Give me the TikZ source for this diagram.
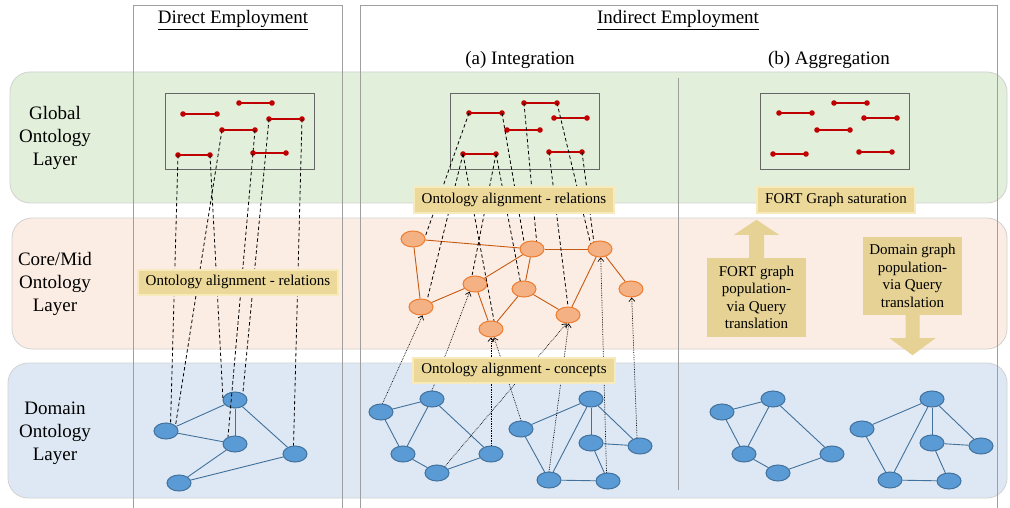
\documentclass[tikz,border=0pt]{standalone}
\usepackage{fontspec}
\setmainfont{Liberation Serif}
\usepackage{tikz}
\usetikzlibrary{arrows.meta, shapes.geometric}
\definecolor{relred}{RGB}{192,0,0}
\definecolor{globband}{RGB}{226,239,218}
\definecolor{coreband}{RGB}{252,237,228}
\definecolor{domband}{RGB}{222,232,244}
\definecolor{domfill}{RGB}{91,155,213}
\definecolor{domline}{RGB}{65,113,156}
\definecolor{corefill}{RGB}{244,177,131}
\definecolor{coreline}{RGB}{237,125,49}
\definecolor{corelink}{RGB}{197,90,17}
\definecolor{tagfill}{RGB}{236,216,152}
\definecolor{tagedge}{RGB}{247,235,190}
\definecolor{callfill}{RGB}{229,210,148}

\begin{document}
\begin{tikzpicture}[x=1pt, y=-1pt,
		>=Stealth,
		layerband/.style={rounded corners=20pt, draw=gray!35, line width=0.8pt},
		colframe/.style={draw=gray!75, line width=0.9pt},
		globframe/.style={draw=gray!80!black, line width=1pt, minimum width=149pt, minimum height=76pt},
		relseg/.style={draw=relred, line width=2.6pt},
		reldot/.style={fill=relred},
		domnode/.style={ellipse, draw=domline, fill=domfill, line width=1pt,
			minimum width=24pt, minimum height=16pt, inner sep=0pt},
		corenode/.style={ellipse, draw=coreline, fill=corefill, line width=1pt,
			minimum width=24pt, minimum height=16pt, inner sep=0pt},
		domedge/.style={draw=domline, line width=0.9pt},
		coreedge/.style={draw=corelink, line width=0.9pt},
		relmap/.style={dash pattern=on 3.5pt off 2.5pt, line width=0.8pt},
		conmap/.style={densely dotted, line width=0.7pt, -{Straight Barb[length=3.5pt, width=6pt]}},
		tagbox/.style={fill=tagfill, draw=tagedge, line width=2pt,
			font=\fontsize{15}{18}\selectfont, minimum height=25pt, inner xsep=8pt},
		callbox/.style={fill=callfill, align=center, font=\fontsize{15}{17.5}\selectfont,
			minimum width=99pt, minimum height=79pt, inner sep=0pt},
		layertext/.style={align=center, font=\fontsize{19}{23}\selectfont},
		headtext/.style={font=\fontsize{19}{23}\selectfont}
	]
	\path[use as bounding box, fill=white] (0,0) rectangle (1010,508);
	
	% Layers
	\path[layerband, fill=globband] (10,72) rectangle (1007,203);
	\path[layerband, fill=coreband] (12,218) rectangle (1007,349);
	\path[layerband, fill=domband] (8,363) rectangle (1007,498);
	
	\node[layertext] (globlab) at (55,138) {Global\\Ontology\\Layer};
	\node[layertext] (corelab) at (55,284) {Core/Mid\\Ontology\\Layer};
	\node[layertext] (domlab) at (55,433) {Domain\\Ontology\\Layer};
	
	% Columns
	\draw[colframe] (133,508) |- (342,5) -- (342,508);
	\draw[colframe] (360,508) |- (997,5) -- (997,508);
	\draw[colframe] (678,78) -- (678,490);
	
	\node[headtext] (direct) at (233,20) {\underline{Direct Employment}};
	\node[headtext] (indirect) at (678,20) {\underline{Indirect Employment}};
	\node[headtext] (integ) at (520,60) {(a) Integration};
	\node[headtext] (aggr) at (829,60) {(b) Aggregation};
	
	% Global layer: relations
	\node[globframe] (dglob) at (239.5,132) {};
	\node[globframe] (iglob) at (524.5,132) {};
	\node[globframe] (gglob) at (834.5,132) {};
	
	\foreach \k/\xa/\xb/\y in {1/183/217/114, 2/239/272/103, 3/269/302/119,
		4/222/255/130, 5/178/210/155, 6/253/286/153} {
		\coordinate (dr\k L) at (\xa,\y);
		\coordinate (dr\k R) at (\xb,\y);
		\draw[relseg] (dr\k L) -- (dr\k R);
		\fill[reldot] (dr\k L) circle[radius=2.8pt] (dr\k R) circle[radius=2.8pt];
	}
	\foreach \p/\dx in {i/0, g/310} {
		\foreach \k/\xa/\y in {1/469/113, 2/524/103, 3/554/118, 4/507/130, 5/463/154, 6/549/152} {
			\coordinate (\p r\k L) at (\xa+\dx,\y);
			\coordinate (\p r\k R) at (\xa+\dx+33,\y);
			\draw[relseg] (\p r\k L) -- (\p r\k R);
			\fill[reldot] (\p r\k L) circle[radius=2.8pt] (\p r\k R) circle[radius=2.8pt];
		}
	}
	
	% Core/Mid layer
	\foreach \k/\x/\y in {1/413/239, 2/532/249, 3/600/249, 4/475/284, 5/524/289,
		6/631/289, 7/421/307, 8/568/315, 9/491/329}
	\node[corenode] (ic\k) at (\x,\y) {};
	\foreach \a/\b in {1/2, 1/7, 2/3, 7/4, 4/2, 2/5, 5/8, 5/9, 4/9, 8/3, 3/6}
	\draw[coreedge] (ic\a) -- (ic\b);
	
	% Domain layer
	\foreach \k/\x/\y in {A/166/431, B/235/400, C/235/444, D/295/454, E/179/483}
	\node[domnode] (dd\k) at (\x,\y) {};
	\foreach \a/\b in {A/B, A/C, B/C, B/D, C/E, E/D}
	\draw[domedge] (dd\a) -- (dd\b);
	
	\foreach \p/\dx in {i/0, g/341} {
		\foreach \k/\x/\y in {1/381/412, 2/432/399, 3/403/454, 4/491/454, 5/437/473,
			6/521/429, 7/591/399, 8/591/443, 9/640/446, 10/549/480, 11/608/481}
		\node[domnode] (\p d\k) at (\x+\dx,\y) {};
		\foreach \a/\b in {1/2, 1/3, 2/3, 2/4, 3/5, 5/4, 6/7, 6/10, 7/10, 7/8, 7/9, 8/9, 8/11, 10/11}
		\draw[domedge] (\p d\a) -- (\p d\b);
	}
	
	% Alignments
	\foreach \s/\t in {dr5L/ddA.60, dr4L/ddA.30, dr5R/ddB.170, dr4R/ddC.135, dr3L/ddB.40, dr3R/ddD.100}
	\draw[relmap] (\s) -- (\t);
	\foreach \s/\t in {ir1L/ic1.10, ir1R/ic2.140, ir5L/ic7.50, ir5L/ic9.70, ir5R/ic4.110,
		ir5R/ic5.115, ir2L/ic2.60, ir2R/ic3.150, ir6L/ic8.north, ir6R/ic3.130}
	\draw[relmap] (\s) -- (\t);
	\foreach \s/\t in {id1.80/ic7.280, id2.north/ic4.235, id4.north/ic9.south, id5.40/ic8.260,
		id6.north/ic9.290, id10.north/ic8.275, id11.100/ic3.275, id9.110/ic6.275}
	\draw[conmap] (\s) -- (\t);
	
	\node[tagbox] (dalign) at (238,282) {Ontology alignment - relations};
	\node[tagbox] (ialign) at (514,200) {Ontology alignment - relations};
	\node[tagbox] (calign) at (514,370) {Ontology alignment - concepts};
	\node[tagbox] (satur) at (836,200) {FORT Graph saturation};
	
	% Query translation
	\node[callbox] (upbox) at (756.5,297.5) {FORT graph\\population-\\via Query\\translation};
	\node[callbox, minimum height=78pt] (downbox) at (912.5,276) {Domain graph\\population-\\via Query\\translation};
	\fill[callfill] (upbox.north) ++(-7.5,0) -- ++(0,-23) -- ++(-15,0) -- ++(22.5,-15)
	-- ++(22.5,15) -- ++(-15,0) -- ++(0,23) -- cycle;
	\fill[callfill] (downbox.south) ++(-7,0) -- ++(0,23) -- ++(-16,0) -- ++(23,17)
	-- ++(23,-17) -- ++(-16,0) -- ++(0,-23) -- cycle;
\end{tikzpicture}
\end{document}
